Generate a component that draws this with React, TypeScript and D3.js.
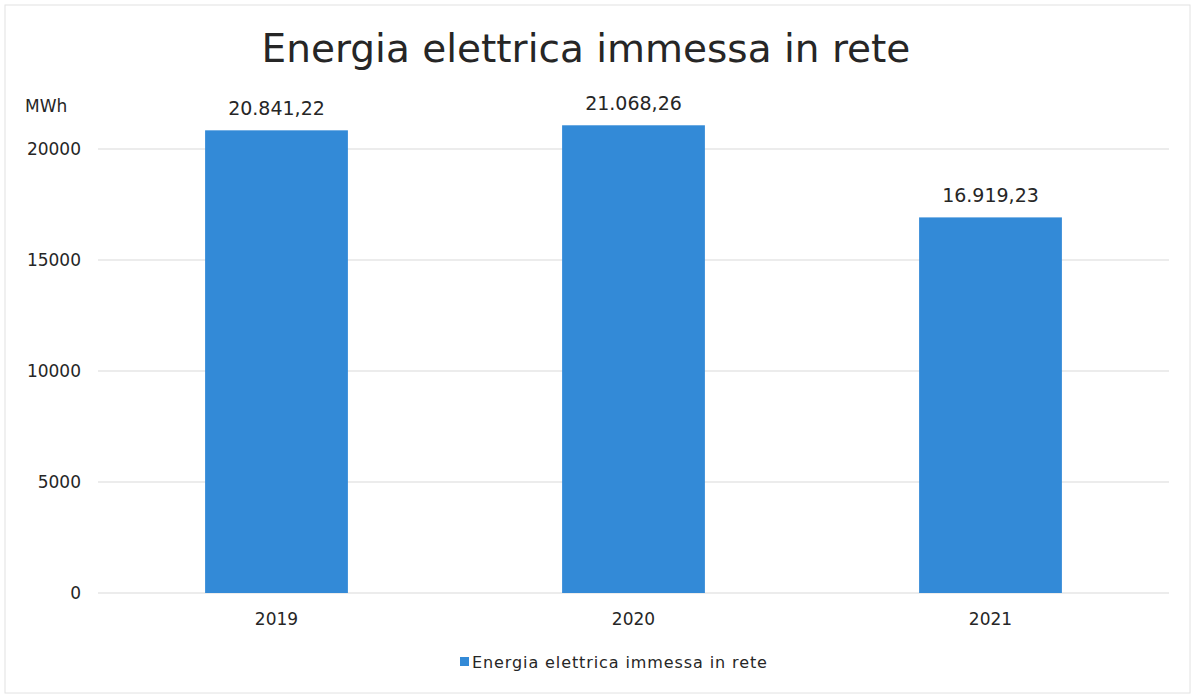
import React from "react";
import * as d3 from "d3";

const categories = ["2019", "2020", "2021"];
const values = [20841.22, 21068.26, 16919.23];
const valueLabels = ["20.841,22", "21.068,26", "16.919,23"];
const yTicks = [0, 5000, 10000, 15000, 20000];
const title = "Energia elettrica immessa in rete";
const seriesName = "Energia elettrica immessa in rete";
const unit = "MWh";

const W = 1195;
const H = 696;
const FONT = "'DejaVu Sans', Verdana, sans-serif";

export default function App() {
  const x = d3.scaleBand<string>().domain(categories).range([98, 1169]).paddingInner(0.6).paddingOuter(0.3);
  const y = d3.scaleLinear().domain([0, 20000]).range([593, 149]);
  return (
    <div>
      <style>{`body{margin:0;background:#fff}`}</style>
      <svg width={W} height={H} style={{ display: "block" }}>
        <rect x={0} y={0} width={W} height={H} fill="#fff" />
        <rect x={5} y={5} width={1185} height={688} fill="none" stroke="#e2e2e2" strokeWidth={1} />
        <text x={586} y={62} textAnchor="middle" fontFamily={FONT} fontSize={39} fill="#262626">
          {title}
        </text>
        {yTicks.map((t) => (
          <g key={t}>
            <line x1={98} x2={1169} y1={y(t)} y2={y(t)} stroke="#d9d9d9" strokeWidth={1} />
            <text x={81} y={y(t)} dy="0.35em" textAnchor="end" fontFamily={FONT} fontSize={17} fill="#262626">
              {t}
            </text>
          </g>
        ))}
        <text x={25} y={112} fontFamily={FONT} fontSize={17} fill="#262626">
          {unit}
        </text>
        {categories.map((c, i) => (
          <g key={c}>
            <rect x={x(c)} y={y(values[i])} width={x.bandwidth()} height={y(0) - y(values[i])} fill="#338ad7" />
            <text x={(x(c) as number) + x.bandwidth() / 2} y={y(values[i]) - 15} textAnchor="middle" fontFamily={FONT} fontSize={19} fill="#262626">
              {valueLabels[i]}
            </text>
            <text x={(x(c) as number) + x.bandwidth() / 2} y={625} textAnchor="middle" fontFamily={FONT} fontSize={17} fill="#262626">
              {c}
            </text>
          </g>
        ))}
        <rect x={460} y={657} width={9} height={9} fill="#338ad7" />
        <text x={472} y={668} fontFamily={FONT} fontSize={16} letterSpacing={0.9} fill="#262626">
          {seriesName}
        </text>
      </svg>
    </div>
  );
}
